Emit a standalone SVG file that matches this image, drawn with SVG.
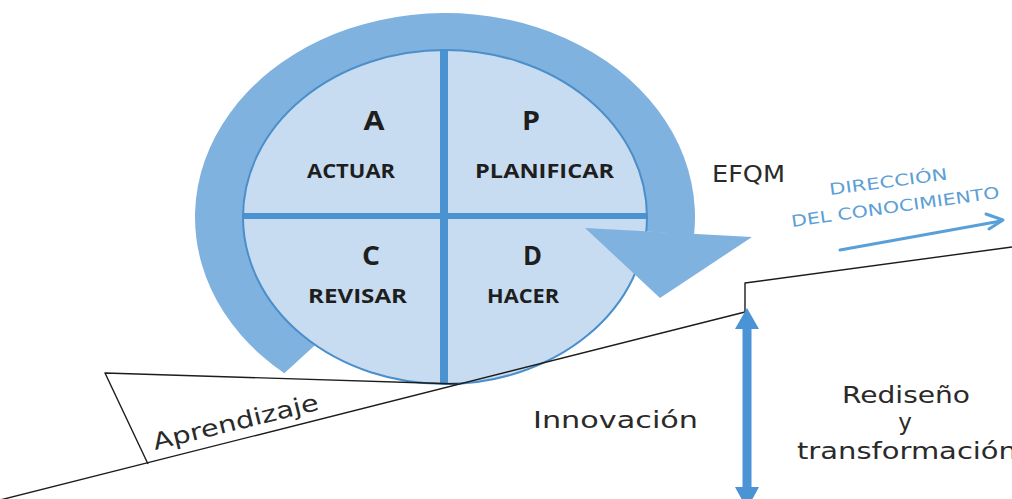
<svg xmlns="http://www.w3.org/2000/svg" width="1012" height="499" viewBox="0 0 1012 499">
  <style>
    .ring { fill: #80b2df; }
    .core { fill: #c7dcf0; stroke: #4a8fcb; stroke-width: 2; }
    .divider { stroke: #4a93d0; fill: none; }
    .big { font-family: "Open Sans", "DejaVu Sans", sans-serif; font-weight: 700; font-size: 26px; fill: #1e1e1e; text-anchor: middle; }
    .lbl { font-family: "Open Sans", "DejaVu Sans", sans-serif; font-weight: 700; font-size: 20px; fill: #1e1e1e; text-anchor: middle; }
    .body { font-family: "DejaVu Sans", "Liberation Sans", sans-serif; font-size: 23px; fill: #2a2a2a; }
    .dir { font-family: "DejaVu Sans", "Liberation Sans", sans-serif; font-size: 16px; fill: #5d9fd6; }
    .ground { fill: none; stroke: #1c1c1c; stroke-width: 1.4; stroke-linejoin: round; }
    .blue { fill: #4a93d4; }
  </style>

  <rect width="1012" height="499" fill="#ffffff"/>

  <!-- PDCA cycle: ring, core ellipse, dividers, arrowhead -->
  <g id="cycle">
    <path class="ring" d="M 284.3 373.3 A 250 204 0 1 1 694.05 234.78 L 646.23 231.56 A 202 167 0 1 0 315.2 344.9 Z"/>
    <ellipse class="core" cx="445" cy="217" rx="202" ry="167"/>
    <line class="divider" x1="444" y1="51" x2="444" y2="383" stroke-width="8"/>
    <line class="divider" x1="244" y1="216" x2="646" y2="216" stroke-width="6"/>
    <polygon class="ring" points="585,228 752,237 660,298"/>
  </g>

  <g id="q-actuar">
    <text class="big" x="374" y="130" textLength="21" lengthAdjust="spacingAndGlyphs">A</text>
    <text class="lbl" x="351" y="178" textLength="88" lengthAdjust="spacingAndGlyphs">ACTUAR</text>
  </g>
  <g id="q-planificar">
    <text class="big" x="531" y="130" textLength="18" lengthAdjust="spacingAndGlyphs">P</text>
    <text class="lbl" x="544.5" y="178" textLength="139" lengthAdjust="spacingAndGlyphs">PLANIFICAR</text>
  </g>
  <g id="q-revisar">
    <text class="big" x="371" y="265" textLength="18" lengthAdjust="spacingAndGlyphs">C</text>
    <text class="lbl" x="357.5" y="303" textLength="99" lengthAdjust="spacingAndGlyphs">REVISAR</text>
  </g>
  <g id="q-hacer">
    <text class="big" x="532.5" y="265" textLength="19" lengthAdjust="spacingAndGlyphs">D</text>
    <text class="lbl" x="523" y="303" textLength="72" lengthAdjust="spacingAndGlyphs">HACER</text>
  </g>

  <g id="efqm">
    <text class="body" x="712" y="182" font-size="20" textLength="73" lengthAdjust="spacingAndGlyphs">EFQM</text>
  </g>

  <!-- ground profile with the learning wedge and the innovation step -->
  <g id="ground">
    <polyline class="ground" points="0,500 745,312 745,283 1012,247"/>
    <polyline class="ground" points="148,464 105,373 458,384"/>
  </g>

  <g id="aprendizaje">
    <text class="body" x="155" y="450" font-size="22" transform="rotate(-13.8 155 450)" textLength="170" lengthAdjust="spacingAndGlyphs">Aprendizaje</text>
  </g>

  <g id="innovacion">
    <text class="body" x="533" y="428" textLength="165" lengthAdjust="spacingAndGlyphs">Innovación</text>
  </g>

  <g id="rediseno">
    <text class="body" x="842" y="403" textLength="128" lengthAdjust="spacingAndGlyphs">Rediseño</text>
    <text class="body" x="905" y="430" text-anchor="middle">y</text>
    <text class="body" x="797" y="459" textLength="220" lengthAdjust="spacingAndGlyphs">transformación</text>
  </g>

  <g id="direccion">
    <text class="dir" x="830" y="195" transform="rotate(-7.5 830 195)" textLength="119" lengthAdjust="spacingAndGlyphs">DIRECCIÓN</text>
    <text class="dir" x="792" y="227" transform="rotate(-8 792 227)" textLength="210" lengthAdjust="spacingAndGlyphs">DEL CONOCIMIENTO</text>
  </g>

  <!-- connectors -->
  <g id="connectors">
    <line x1="840" y1="250" x2="1001" y2="221" stroke="#5aa0d8" stroke-width="3" stroke-linecap="round"/>
    <polyline points="986,214 1003,220 989,229" fill="none" stroke="#5aa0d8" stroke-width="3" stroke-linejoin="round" stroke-linecap="round"/>
    <rect class="blue" x="742.5" y="325" width="9" height="165"/>
    <polygon class="blue" points="747,308 759,329 735,329"/>
    <polygon class="blue" points="735,487 759,487 747,509"/>
  </g>
</svg>
